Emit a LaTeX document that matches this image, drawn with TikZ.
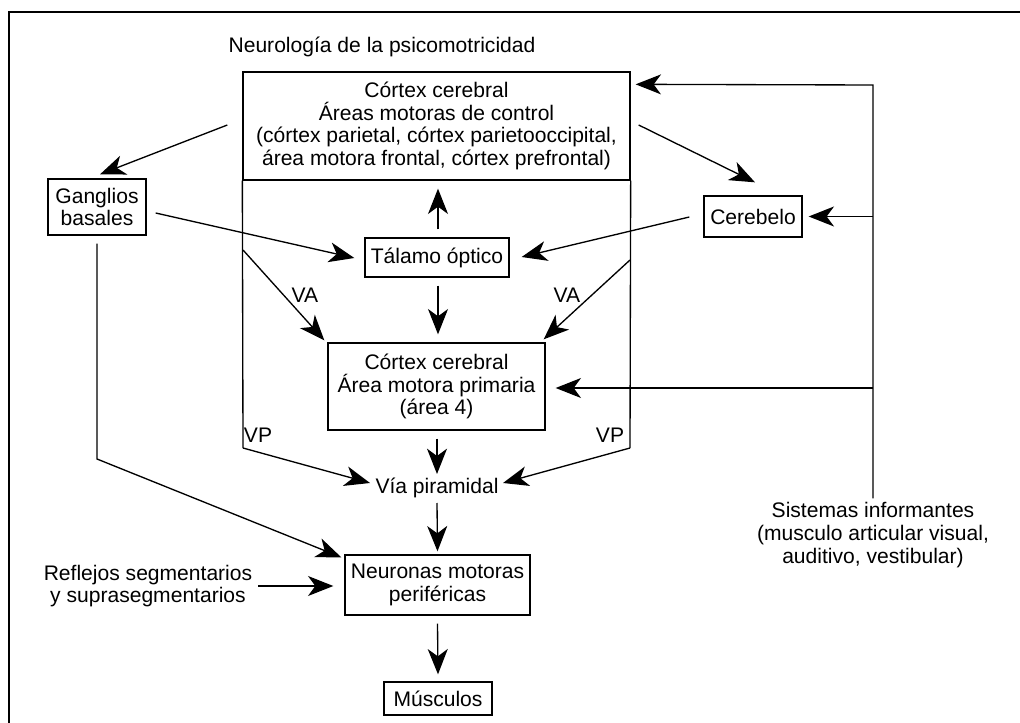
\documentclass[tikz,border=0pt]{standalone}
\usepackage{fontspec}
\setmainfont{Liberation Sans}
\usetikzlibrary{arrows.meta,calc}
\begin{document}
\begin{tikzpicture}[x=0.75pt,y=-0.75pt,
  every node/.style={font=\fontsize{15.8}{17}\selectfont, align=center, inner sep=0pt},
  box/.style={draw, line width=1pt},
  arr/.style={-{Stealth[length=19pt,width=15pt,inset=5.5pt]}, line width=1pt},
  ln/.style={line width=1pt}]
\useasboundingbox (0,0) rectangle (1020,723);
% frame
\draw[line width=1.3pt] (9,723) -- (9,12) -- (1020,12);
% title
\node (title) at (382,47) {Neurología de la psicomotricidad};
% nodes
\node[box, minimum width=290.25pt, minimum height=81pt] (top) at (436.5,126)
  {Córtex cerebral\\Áreas motoras de control\\(córtex parietal, córtex parietooccipital,\\área motora frontal, córtex prefrontal)};
\node[box, minimum width=73.5pt, minimum height=42pt] (gang) at (97,207) {Ganglios\\basales};
\node[box, minimum width=108pt, minimum height=29.25pt] (tal) at (437,257.5) {Tálamo óptico};
\node[box, minimum width=73.5pt, minimum height=30.75pt] (cereb) at (753,216.5) {Cerebelo};
\node[box, minimum width=162.75pt, minimum height=65.25pt] (prim) at (436.5,386.5)
  {Córtex cerebral\\Área motora primaria\\(área 4)};
\node (via) at (437,488) {Vía piramidal};
\node[box, minimum width=138.75pt, minimum height=45pt] (neur) at (437.5,585) {Neuronas motoras\\periféricas};
\node[box, minimum width=81pt, minimum height=24.75pt] (musc) at (438,698.5) {Músculos};
\node (refl) at (148,586) {Reflejos segmentarios\\y suprasegmentarios};
\node (sis) at (873,535) {Sistemas informantes\\(musculo articular visual,\\auditivo, vestibular)};
% labels
\node (vaL) at (305,295) {VA};
\node (vaR) at (567,295) {VA};
\node (vpL) at (258,435) {VP};
\node (vpR) at (610,435) {VP};
% coordinates
\coordinate (vpl) at (243,448);
\coordinate (vpr) at (630,448);
\coordinate (val) at (243,250);
\coordinate (var) at (630,260);
\coordinate (gk) at (97,459);
\coordinate (rt) at (873,85);
\coordinate (j1) at (873,216.5);
\coordinate (j2) at (873,388);
% side walls
\draw[ln] (top.south west) -- (vpl);
\draw[ln] (top.south east) -- (vpr);
% arrows
\draw[arr] ($(top.west)+(-15,-1)$) -- ($(gang.north)+(3,-4)$);
\draw[arr] ($(gang.east)+(9,6)$) -- ($(tal.west)+(-10,0.5)$);
\draw[arr] ($(tal.north)+(1,-8)$) -- ($(top.south)+(1.5,8)$);
\draw[arr] ($(tal.south)+(1,8)$) -- ($(prim.north)+(1.5,-8)$);
\draw[arr] ($(top.east)+(8,-1)$) -- ($(cereb.north)+(2,-13)$);
\draw[arr] ($(cereb.west)+(-14,0.5)$) -- ($(tal.east)+(12,-0.5)$);
\draw[arr] (val) -- ($(prim.north west)+(-3,-2)$);
\draw[arr] (var) -- ($(prim.north east)+(-2,-3)$);
\draw[arr] (vpl) -- ($(via)+(-67,-5)$);
\draw[arr] (vpr) -- ($(via)+(66,-5)$);
\draw[arr] ($(prim.south)+(0.5,8)$) -- ($(via)+(0,-14)$);
\draw[arr] ($(via)+(0,15)$) -- ($(neur.north)+(0,-3)$);
\draw[arr] ($(gang.south)+(0,8)$) -- (gk) -- ($(neur.north west)+(-3,3)$);
\draw[arr] ($(refl.east)+(6,0)$) -- ($(neur.west)+(-11,1)$);
\draw[arr] ($(neur.south)+(0,8)$) -- ($(musc.north)+(0,-7)$);
\draw[arr] ($(sis.north)+(0,-4)$) -- (rt) -- ($(top.north east)+(5,13)$);
\draw[arr] (j1) -- ($(cereb.east)+(6,0)$);
\draw[arr] (j2) -- ($(prim.east)+(10,1.5)$);
\end{tikzpicture}
\end{document}
